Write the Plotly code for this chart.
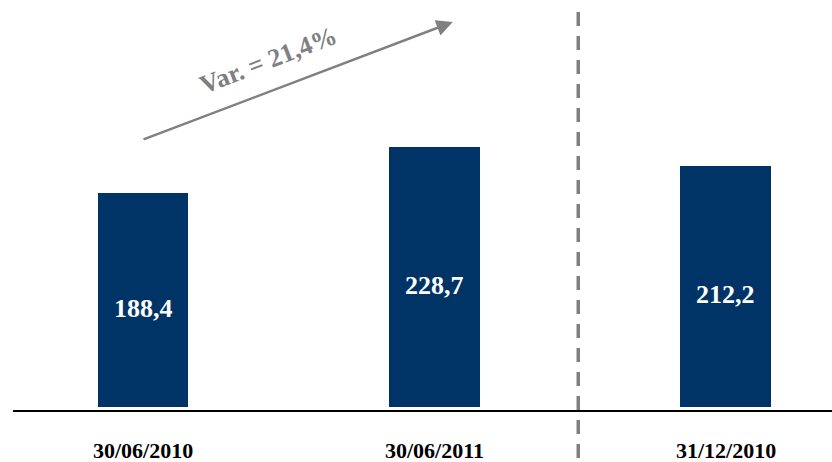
import plotly.graph_objects as go

categories = ["30/06/2010", "30/06/2011", "31/12/2010"]
values = [188.4, 228.7, 212.2]
value_labels = ["188,4", "228,7", "212,2"]
variation_label = "Var. = 21,4%"

BAR_COLOR = "#003366"
GRAY = "#808080"
SERIF = "Times New Roman, Liberation Serif, serif"

fig = go.Figure()
fig.add_trace(go.Bar(
    x=categories, y=values, width=0.311,
    marker=dict(color=BAR_COLOR, line=dict(width=0)),
    hoverinfo="skip", showlegend=False,
))

# value labels inside bars
for c, v, t in zip(categories, values, value_labels):
    fig.add_annotation(x=c, y=v / 2, text=f"<b>{t}</b>", showarrow=False,
                       yshift=-8, font=dict(family=SERIF, size=26, color="white"))

# category labels under the axis
for c in categories:
    fig.add_annotation(x=c, y=0, yref="paper", text=f"<b>{c}</b>", showarrow=False,
                       yanchor="middle", yshift=-43,
                       font=dict(family=SERIF, size=22, color="black"))

# variation arrow
fig.add_annotation(x=1.063, y=339.0, ax=-0.004, ay=235.1, xref="x", yref="y",
                   axref="x", ayref="y", text="", showarrow=True,
                   arrowhead=2, arrowsize=1.3, arrowwidth=2.5, arrowcolor=GRAY)
fig.add_annotation(x=0.427, y=305.5, text=f"<b>{variation_label}</b>", showarrow=False,
                   textangle=-21, font=dict(family=SERIF, size=26, color=GRAY))

# baseline
fig.add_shape(type="line", xref="paper", yref="paper", x0=13 / 832, x1=1,
              y0=-4 / 407, y1=-4 / 407, line=dict(color="black", width=2))
# dashed separator
fig.add_shape(type="line", xref="x", yref="paper", x0=1.494, x1=1.494,
              y0=(407 - 12) / 407, y1=-0.14,
              line=dict(color=GRAY, width=3.5, dash="14px,10px"))

fig.update_layout(
    width=832, height=462,
    margin=dict(l=0, r=0, t=0, b=55),
    paper_bgcolor="white", plot_bgcolor="white",
    xaxis=dict(type="category", range=[-0.4918, 2.3654], showticklabels=False,
               showgrid=False, zeroline=False, showline=False, ticks=""),
    yaxis=dict(range=[0, 358.4], visible=False, showgrid=False, zeroline=False),
    bargap=0,
)

fig.write_html("out.html", config={"displayModeBar": False},
               post_script="document.body.style.margin='0';")
